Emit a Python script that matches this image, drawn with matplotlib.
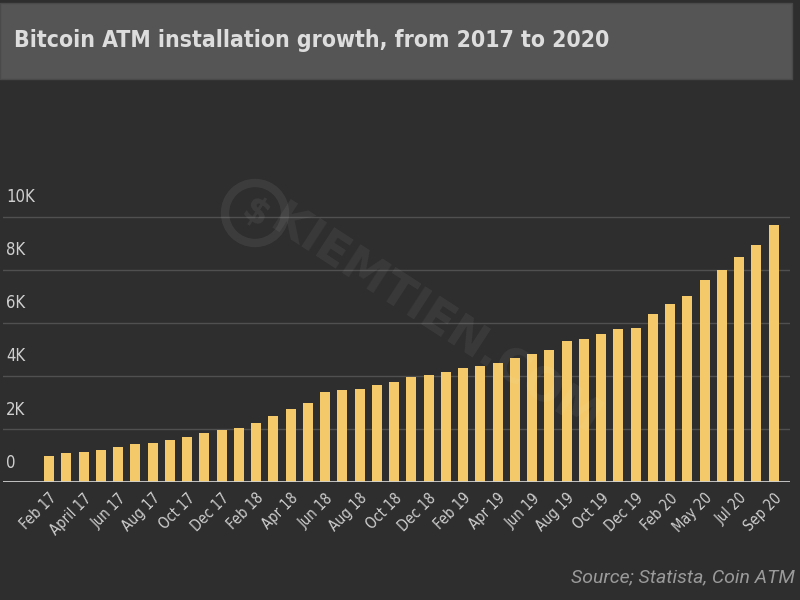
import matplotlib
matplotlib.use("Agg")
import matplotlib.pyplot as plt
from matplotlib.patches import Rectangle, Circle
import matplotlib.transforms as mtransforms

# ---- data ----
values = [1000, 1090, 1150, 1230, 1340, 1430, 1480, 1600, 1700, 1850, 1970,
          2060, 2240, 2490, 2770, 2980, 3410, 3460, 3510, 3670, 3780,
          3950, 4040, 4150, 4310, 4380, 4480, 4690, 4840, 5000, 5330, 5380,
          5580, 5760, 5810, 6340, 6720, 7030, 7620, 8000, 8500, 8940, 9700]
tick_labels = ["Feb 17", "April 17", "Jun 17", "Aug 17", "Oct 17", "Dec 17",
               "Feb 18", "Apr 18", "Jun 18", "Aug 18", "Oct 18", "Dec 18",
               "Feb 19", "Apr 19", "Jun 19", "Aug 19", "Oct 19", "Dec 19",
               "Feb 20", "May 20", "Jul 20", "Sep 20"]
ytick_values = [0, 2000, 4000, 6000, 8000, 10000]
ytick_labels = ["0", "2K", "4K", "6K", "8K", "10K"]
title = "Bitcoin ATM installation growth, from 2017 to 2020"
source = "Source; Statista, Coin ATM"
watermark = "KIEMTIEN.COM"

BG = "#2e2e2e"

def fp(size, weight="normal"):
    return dict(family=["DejaVu Sans"], fontstretch="condensed", fontsize=size, fontweight=weight)

fig = plt.figure(figsize=(8, 6), dpi=100, facecolor=BG)

fig.patches.append(Rectangle((0, 1 - 79/600), 792/800, 76/600, transform=fig.transFigure,
                             facecolor="#555555", edgecolor="#4a4a4a", lw=1, zorder=0))
fig.text(14/800, 1 - 40/600, title, color="#dddddd", va="center", ha="left", **fp(16.5, "bold"))

ax = fig.add_axes([3/800, (600-482.3)/600, 787/800, (482.3-163.6)/600])
ax.set_facecolor(BG)
x = list(range(len(values)))
ax.bar(x, values, width=0.58, color="#f3c969", zorder=3)
ax.set_xlim(-2.67, 42.95)
ax.set_ylim(0, 12000)

for s in ax.spines.values():
    s.set_visible(False)
ax.axhline(0, color="#d0d0d0", lw=2, zorder=4)
trans = mtransforms.blended_transform_factory(ax.transAxes, ax.transData)
for v, lab in zip(ytick_values, ytick_labels):
    if v > 0:
        ax.axhline(v, color="#505050", lw=1, zorder=1)
    ax.text(3/787, v + 400, lab, transform=trans, color="#cfcfcf",
            ha="left", va="bottom", **fp(12))
ax.set_yticks([])
ax.set_xticks(x[::2])
ax.set_xticklabels(tick_labels, rotation=45, ha="right", rotation_mode="anchor",
                   color="#cfcfcf", **fp(10.5))
ax.tick_params(axis="x", length=0, pad=6)

# watermark
fig.patches.append(Circle((2.55, 6 - 2.13), 0.3, transform=fig.dpi_scale_trans,
                          facecolor="none", edgecolor="#ffffff", alpha=0.07, lw=6,
                          zorder=1))
fig.text(255/800, 1 - 213/600, "$", color="#ffffff", alpha=0.07, fontsize=26,
         fontweight="bold", ha="center", va="center", rotation=-33)
fig.text(435/800, 1 - 322/600, watermark, rotation=-33, color="#ffffff", alpha=0.06,
         fontsize=33, fontweight="bold", ha="center", va="center")

fig.text(795/800, 1 - 577/600, source, color="#9a9a9a", fontsize=14, style="italic",
         family=["Roboto", "DejaVu Sans"], ha="right", va="center")

fig.savefig("out.png", dpi=100, facecolor=BG)
